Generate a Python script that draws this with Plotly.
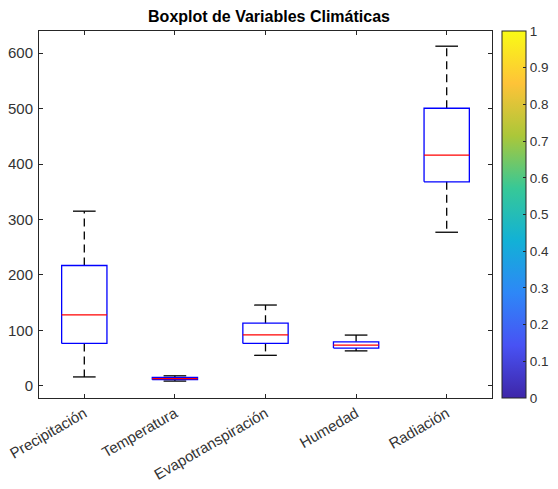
import plotly.graph_objects as go

categories = ["Precipitación", "Temperatura", "Evapotranspiración", "Humedad", "Radiación"]
lower_whisker = [16, 8.5, 55, 63, 277]
q1 = [76.5, 11, 76.5, 68, 368]
median = [128, 13, 92, 73.5, 416]
q3 = [217, 15, 113, 79.4, 500.7]
upper_whisker = [315, 18, 145.7, 91.5, 612.6]
y_ticks = [0, 100, 200, 300, 400, 500, 600]
cbar_ticks = [0, 0.1, 0.2, 0.3, 0.4, 0.5, 0.6, 0.7, 0.8, 0.9, 1]

BOX_HALF = 0.25
CAP_HALF = 0.125

parula = [
    [0.0, "rgb(62,38,168)"],
    [1/7, "rgb(72,82,244)"],
    [2/7, "rgb(46,135,247)"],
    [3/7, "rgb(18,177,214)"],
    [4/7, "rgb(55,200,151)"],
    [5/7, "rgb(171,199,57)"],
    [6/7, "rgb(254,195,56)"],
    [1.0, "rgb(249,251,21)"],
]

FONT = "Liberation Sans, Arial, Helvetica"
TXT = "#333333"

fig = go.Figure()

for i, name in enumerate(categories):
    x = i + 1
    # whiskers (dashed)
    fig.add_trace(go.Scatter(
        x=[x, x, None, x, x],
        y=[q3[i], upper_whisker[i], None, q1[i], lower_whisker[i]],
        mode="lines", line=dict(color="black", width=1.3, dash="8px,5px"),
        showlegend=False, hoverinfo="skip"))
    # caps
    fig.add_trace(go.Scatter(
        x=[x - CAP_HALF, x + CAP_HALF, None, x - CAP_HALF, x + CAP_HALF],
        y=[upper_whisker[i], upper_whisker[i], None, lower_whisker[i], lower_whisker[i]],
        mode="lines", line=dict(color="black", width=1.3),
        showlegend=False, hoverinfo="skip"))
    # box
    fig.add_trace(go.Scatter(
        x=[x - BOX_HALF, x + BOX_HALF, x + BOX_HALF, x - BOX_HALF, x - BOX_HALF],
        y=[q1[i], q1[i], q3[i], q3[i], q1[i]],
        mode="lines", line=dict(color="#0000FF", width=1.3),
        showlegend=False, hoverinfo="skip"))
    # median
    fig.add_trace(go.Scatter(
        x=[x - BOX_HALF, x + BOX_HALF],
        y=[median[i], median[i]],
        mode="lines", line=dict(color="#FF0000", width=1.3),
        showlegend=False, hoverinfo="skip"))

# colorbar (dummy trace)
fig.add_trace(go.Scatter(
    x=[1, 1], y=[0, 0], mode="markers",
    marker=dict(size=0.1, opacity=0, color=[0, 1], cmin=0, cmax=1,
                colorscale=parula, showscale=True,
                colorbar=dict(
                    x=1.0221, xanchor="left", xref="paper",
                    y=0, yanchor="bottom", len=1, lenmode="fraction",
                    thickness=24, thicknessmode="pixels",
                    outlinecolor="#262626", outlinewidth=1,
                    tickvals=cbar_ticks, ticktext=[f"{v:g}" for v in cbar_ticks],
                    ticks="inside", ticklen=3, tickcolor="#262626",
                    tickfont=dict(family=FONT, size=13.5, color=TXT),
                    xpad=0, ypad=0,
                )),
    showlegend=False, hoverinfo="skip"))

# The page body adds an 8px margin; figure size/margins compensate.
fig.update_layout(
    width=550, height=473,
    margin=dict(l=31, r=66, t=23, b=83, autoexpand=False),
    paper_bgcolor="white", plot_bgcolor="white",
    font=dict(family=FONT, size=15, color=TXT),
    title=dict(text="<b>Boxplot de Variables Climáticas</b>",
               x=261/550, xanchor="center", y=1 - 8/473, yanchor="middle",
               yref="container",
               font=dict(family=FONT, size=16, color="black")),
    xaxis=dict(range=[0.5, 5.5], tickvals=[1, 2, 3, 4, 5], ticktext=categories,
               tickangle=-30, showgrid=False, zeroline=False,
               showline=True, mirror="ticks", linecolor="#262626", linewidth=1,
               ticks="inside", ticklen=4, tickcolor="#262626",
               ticklabeloverflow="allow",
               tickfont=dict(size=15, color=TXT)),
    yaxis=dict(range=[-22, 640], tickvals=y_ticks, showgrid=False, zeroline=False,
               showline=True, mirror="ticks", linecolor="#262626", linewidth=1,
               ticks="inside", ticklen=4, tickcolor="#262626",
               ticklabelstandoff=2,
               tickfont=dict(size=15, color=TXT)),
)

fig.write_html("out.html")
